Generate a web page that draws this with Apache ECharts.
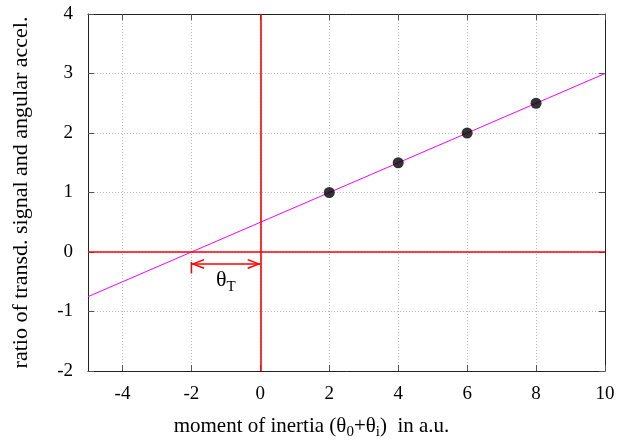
<!DOCTYPE html>
<html><head><meta charset="utf-8">
<script src="https://cdn.jsdelivr.net/npm/echarts@6/dist/echarts.min.js"></script>
<style>html,body{margin:0;padding:0;background:#fff}#c{width:630px;height:443px}</style>
</head><body><div id="c"></div>
<script>
// data
var pointsX = [2, 4, 6, 8];
var pointsY = [1, 1.5, 2, 2.5];
var fitX = [-5, 10];
var fitY = [-0.75, 3];
var xTicks = [-4, -2, 0, 2, 4, 6, 8, 10];
var yTicks = [-2, -1, 0, 1, 2, 3, 4];
var arrowY = -0.2;
var thetaTFrom = -2, thetaTTo = 0;
var thetaLabelPos = [-1, -0.5];

var FONT = '"Liberation Serif", "DejaVu Serif", serif';
// open arrow head, tip at the centre of the symbol box
var OPEN_ARROW = 'path://M5,-11 L5,-11 Z M5,0 L10,11 L8.6,11.6 L5,3.2 L1.4,11.6 L0,11 Z';
var chart = echarts.init(document.getElementById('c'));
var gridLine = {show: true, lineStyle: {color: '#b8b8b8', type: [1, 2], width: 1}};
chart.setOption({
  animation: false,
  grid: {left: 88, right: 25, top: 14, bottom: 72, containLabel: false, outerBoundsMode: 'none'},
  xAxis: [{
    type: 'value', min: -5, max: 10, position: 'bottom',
    axisLine: {show: true, onZero: false, lineStyle: {color: '#222', width: 1}},
    axisTick: {show: true, inside: true, length: 6, customValues: xTicks, lineStyle: {color: '#555'}},
    axisLabel: {customValues: xTicks, color: '#000', fontFamily: FONT, fontSize: 19, margin: 14},
    splitLine: gridLine,
    name: '{a|moment of inertia (θ}{s|0}{a|+θ}{s|i}{a|)  in a.u.}',
    nameLocation: 'middle', nameGap: 45,
    nameTextStyle: {padding: [0, 70, 0, 0], rich: {
      a: {fontFamily: FONT, fontSize: 21, color: '#000', lineHeight: 24, verticalAlign: 'top'},
      s: {fontFamily: FONT, fontSize: 15, color: '#000', lineHeight: 12, verticalAlign: 'bottom'}
    }}
  }, {
    type: 'value', min: -5, max: 10, position: 'top',
    axisLine: {show: true, onZero: false, lineStyle: {color: '#222', width: 1}},
    axisTick: {show: true, inside: true, length: 6, customValues: xTicks, lineStyle: {color: '#555'}},
    axisLabel: {show: false}, splitLine: {show: false}
  }],
  yAxis: [{
    type: 'value', min: -2, max: 4, interval: 1, position: 'left',
    axisLine: {show: true, onZero: false, lineStyle: {color: '#222', width: 1}},
    axisTick: {show: true, inside: true, length: 6, lineStyle: {color: '#555'}},
    axisLabel: {color: '#000', fontFamily: FONT, fontSize: 19, margin: 15},
    splitLine: gridLine,
    name: 'ratio of transd. signal and angular accel.',
    nameLocation: 'middle', nameGap: 56,
    nameTextStyle: {fontFamily: FONT, fontSize: 22, color: '#000'}
  }, {
    type: 'value', min: -2, max: 4, interval: 1, position: 'right',
    axisLine: {show: true, onZero: false, lineStyle: {color: '#222', width: 1}},
    axisTick: {show: true, inside: true, length: 6, lineStyle: {color: '#555'}},
    axisLabel: {show: false}, splitLine: {show: false}
  }],
  series: [{
    type: 'line',
    data: fitX.map(function (x, i) { return [x, fitY[i]]; }),
    showSymbol: false, symbol: 'none',
    lineStyle: {color: '#ff00ff', width: 1},
    z: 3,
    markLine: {
      silent: true, symbol: 'none', animation: false,
      label: {show: false},
      lineStyle: {color: '#ff0000', width: 1.6, type: 'solid'},
      data: [{xAxis: 0}, {yAxis: 0}]
    }
  }, {
    type: 'line', data: [[thetaTFrom, -0.17], [thetaTFrom, -0.36]],
    symbol: 'none', lineStyle: {color: '#ff0000', width: 1.6}, z: 4,
    markLine: {
      silent: true, animation: false,
      symbol: [OPEN_ARROW, OPEN_ARROW], symbolSize: [10, 26],
      label: {show: false},
      itemStyle: {color: '#ff0000'},
      lineStyle: {color: '#ff0000', width: 1.6, type: 'solid'},
      data: [[{coord: [thetaTFrom, arrowY]}, {coord: [thetaTTo, arrowY]}]]
    },
    markPoint: {
      silent: true, symbol: 'circle', symbolSize: 0,
      label: {show: true, position: 'inside',
        formatter: '{a|θ}{s|T}',
        rich: {
          a: {fontFamily: FONT, fontSize: 22, color: '#000', lineHeight: 26, verticalAlign: 'top'},
          s: {fontFamily: FONT, fontSize: 15, color: '#000', lineHeight: 14, verticalAlign: 'bottom'}
        }},
      data: [{coord: thetaLabelPos}]
    }
  }, {
    type: 'scatter',
    data: pointsX.map(function (x, i) { return [x, pointsY[i]]; }),
    symbol: 'circle', symbolSize: 11,
    itemStyle: {color: '#000'},
    z: 5
  }]
});
</script></body></html>
